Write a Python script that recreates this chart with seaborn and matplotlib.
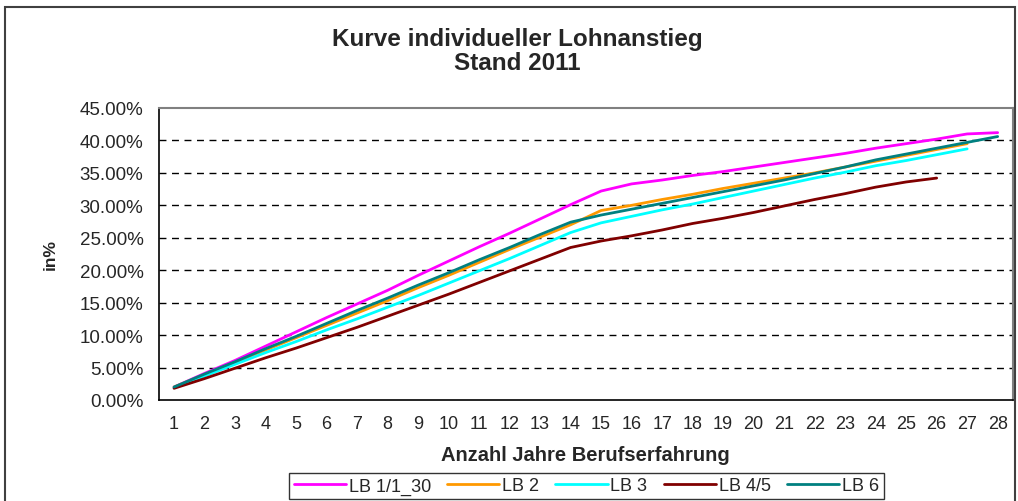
import numpy
import pandas
import matplotlib
matplotlib.use("Agg")
import matplotlib.pyplot as plt
import seaborn
from matplotlib.patches import Rectangle
from matplotlib.ticker import FuncFormatter, MultipleLocator

# Jahre Berufserfahrung
jahre = list(range(1, 29))

# Lohnanstieg in % je Lohnband
lb_1_30 = [2.0, 4.1, 6.1, 8.3, 10.5, 12.7, 14.8, 16.9, 19.2, 21.4, 23.6, 25.7, 27.9, 30.1,
           32.2, 33.3, 33.9, 34.6, 35.2, 35.9, 36.6, 37.3, 38.0, 38.8, 39.5, 40.2, 41.0, 41.2]
lb_2 = [2.0, 3.9, 5.8, 7.7, 9.6, 11.5, 13.4, 15.3, 17.3, 19.2, 21.2, 23.2, 25.1, 27.0,
        29.2, 30.0, 30.9, 31.7, 32.6, 33.4, 34.2, 35.0, 35.9, 36.8, 37.7, 38.6, 39.5]
lb_3 = [1.9, 3.7, 5.5, 7.3, 9.0, 10.8, 12.5, 14.3, 16.1, 18.0, 19.9, 21.8, 23.8, 25.8,
        27.3, 28.3, 29.3, 30.2, 31.2, 32.2, 33.2, 34.2, 35.1, 36.1, 36.9, 37.8, 38.7]
lb_4_5 = [1.8, 3.3, 4.9, 6.5, 8.0, 9.6, 11.2, 12.9, 14.6, 16.3, 18.1, 19.9, 21.7, 23.5,
          24.5, 25.3, 26.2, 27.2, 28.0, 28.9, 29.9, 30.9, 31.8, 32.8, 33.6, 34.2]
lb_6 = [2.0, 4.0, 5.9, 7.9, 9.8, 11.8, 13.8, 15.7, 17.7, 19.6, 21.6, 23.5, 25.5, 27.4,
        28.5, 29.4, 30.3, 31.2, 32.1, 33.0, 33.9, 34.9, 35.9, 37.0, 37.9, 38.8, 39.7, 40.6]

serien = {"LB 1/1_30": lb_1_30, "LB 2": lb_2, "LB 3": lb_3, "LB 4/5": lb_4_5, "LB 6": lb_6}
farben = {"LB 1/1_30": "#FF00FF", "LB 2": "#FF9900", "LB 3": "#00FFFF",
          "LB 4/5": "#800000", "LB 6": "#008080"}

rows = []
for name, werte in serien.items():
    for j, w in zip(jahre, werte):
        rows.append({"Jahr": j, "Wert": w, "Serie": name})
df = pandas.DataFrame(rows)

seaborn.set_style("white")
plt.rcParams['font.family'] = ['Liberation Sans', 'DejaVu Sans']

fig = plt.figure(figsize=(10.18, 5.02), dpi=100)
ax = fig.add_axes([0.156, 0.2012, 0.839, 0.5817])

seaborn.lineplot(data=df, x="Jahr", y="Wert", hue="Serie", palette=farben,
                 hue_order=list(serien.keys()), linewidth=2.0, ax=ax, legend=False)

ax.set_xlim(0.5, 28.5)
ax.set_ylim(0, 45)
ax.yaxis.set_major_locator(MultipleLocator(5))
ax.yaxis.set_major_formatter(FuncFormatter(lambda v, p: f"{v:.2f}%"))
ax.set_xticks(jahre)
ax.set_xticklabels([str(j) for j in jahre])
ax.set_xticks(numpy.arange(0.5, 29, 1.0), minor=True)
ax.tick_params(axis="x", which="major", length=0, labelsize=13, pad=11)
ax.tick_params(axis="x", which="minor", length=5, width=1, color="black", direction="out")
ax.tick_params(axis="y", which="major", length=5, width=1, color="black", direction="out",
               labelsize=13.5, pad=6)

for v in range(5, 45, 5):
    ax.axhline(v, color="black", linestyle=(0, (5, 4)), linewidth=1.0, zorder=0)

for s in ["left", "bottom"]:
    ax.spines[s].set_color("black")
    ax.spines[s].set_linewidth(1.2)
for s in ["top", "right"]:
    ax.spines[s].set_color("#808080")
    ax.spines[s].set_linewidth(1.5)

ax.set_xlabel("Anzahl Jahre Berufserfahrung", fontsize=14.5, fontweight="bold", labelpad=9)
ax.set_ylabel("in%", fontsize=12.5, fontweight="bold", labelpad=16)

fig.text(0.508, 0.922, "Kurve individueller Lohnanstieg", ha="center", va="center",
         fontsize=17.5, fontweight="bold")
fig.text(0.508, 0.874, "Stand 2011", ha="center", va="center",
         fontsize=17.5, fontweight="bold")

handles = [plt.Line2D([], [], color=farben[n], linewidth=2.0) for n in serien]
leg = fig.legend(handles, list(serien.keys()), loc="center", bbox_to_anchor=(0.576, 0.03),
                 ncol=5, fontsize=13, frameon=True, fancybox=False, handlelength=2.9,
                 handletextpad=0.15, columnspacing=0.9, borderpad=0.25)
leg.get_frame().set_edgecolor("black")
leg.get_frame().set_linewidth(1.0)

fig.patches.append(Rectangle((0.005, -0.1), 0.992, 1.084, transform=fig.transFigure,
                             fill=False, edgecolor="#404040", linewidth=1.5))

fig.savefig("out.png", dpi=100)
